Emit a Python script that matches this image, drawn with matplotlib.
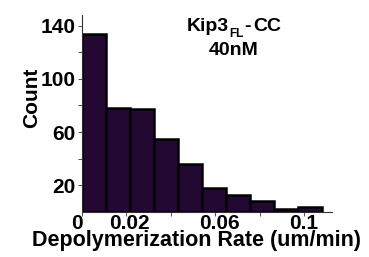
import matplotlib
matplotlib.use("Agg")
import matplotlib.pyplot as plt
from matplotlib.transforms import ScaledTranslation, IdentityTransform

bin_edges = [0.0, 0.0108, 0.0216, 0.0324, 0.0432, 0.0540, 0.0648, 0.0756, 0.0864, 0.0972, 0.1080]
counts = [134, 78, 77, 55, 36, 18, 13, 8, 2, 4]
x_ticks = [0, 0.02, 0.04, 0.06, 0.08, 0.1]
x_labels = ["0", "0.02", "", "0.06", "", "0.1"]
y_ticks = [20, 40, 60, 80, 100, 120, 140]
y_labels = ["20", "", "60", "", "100", "", "140"]

plt.rcParams['font.family'] = ['Liberation Sans', 'DejaVu Sans']
plt.rcParams['font.weight'] = 'bold'

fig = plt.figure(figsize=(3.69, 2.57), dpi=100)
ax = fig.add_axes([0.222, 0.175, 0.678, 0.767])

widths = [bin_edges[i + 1] - bin_edges[i] for i in range(len(counts))]
ax.bar(bin_edges[:-1], counts, width=widths, align='edge',
       color='#230932', edgecolor='black', linewidth=1.8)

ax.set_xlim(0, 0.1125)
ax.set_ylim(0, 148)
ax.set_xticks(x_ticks)
ax.set_xticklabels(x_labels)
ax.set_yticks(y_ticks)
ax.set_yticklabels(y_labels)
for s in ['top', 'right']:
    ax.spines[s].set_visible(False)
for s in ['left', 'bottom']:
    ax.spines[s].set_linewidth(0.8)
    ax.spines[s].set_color('#333333')
ax.tick_params(axis='both', labelsize=15, length=3, width=0.6, colors='#333333', labelcolor='black')
ax.tick_params(axis='x', pad=-1.5)
ax.tick_params(axis='y', pad=1.5)

# small horizontal shifts of x tick labels (pixels) as in the reference
x_label_shift = [-5, 3, 0, 4, 0, -1]
for lab, dx in zip(ax.get_xticklabels(), x_label_shift):
    lab.set_transform(lab.get_transform() + ScaledTranslation(dx / 100, 0, fig.dpi_scale_trans))

ax.set_xlabel("Depolymerization Rate (um/min)", fontsize=15.5, fontweight='bold')
ax.xaxis.set_label_coords(0.459, -0.09)
ax.set_ylabel("Count", fontsize=15, fontweight='bold')
ax.yaxis.set_label_coords(-0.164, 0.579)

# title composed of pieces (with small subscript)
renderer = fig.canvas.get_renderer()
pieces = [("Kip3", 14, 0, 0), ("FL", 8.5, -6, 1), ("-", 14, 0, 1), ("CC", 14, 0, 2.5)]
texts = []
for s, fs, dy, gap in pieces:
    t = fig.text(0, 226.3 + dy, s, fontsize=fs, fontweight='bold', ha='left', va='baseline',
                 transform=IdentityTransform())
    texts.append(t)
ws = [t.get_window_extent(renderer).width for t in texts]
gaps = [p[3] for p in pieces]
total = sum(ws) + sum(gaps)
x = 234 - total / 2
for t, w, g in zip(texts, ws, gaps):
    x += g
    t.set_x(x)
    x += w
fig.text(233.5, 257 - 55, "40nM", fontsize=14, fontweight='bold', ha='center', va='baseline',
         transform=IdentityTransform())

fig.savefig("out.png", dpi=100)
